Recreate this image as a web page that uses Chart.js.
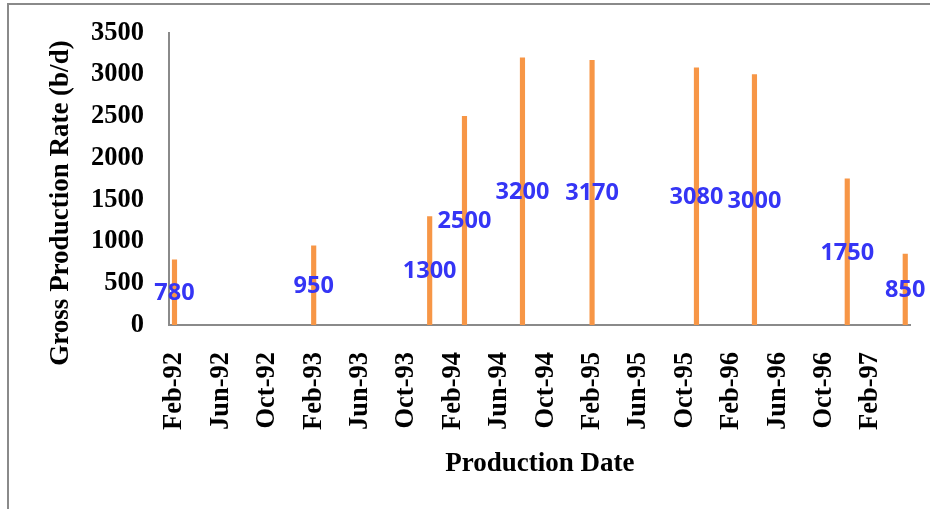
<!DOCTYPE html>
<html>
<head>
<meta charset="utf-8">
<script src="https://cdn.jsdelivr.net/npm/chart.js@4/dist/chart.umd.min.js"></script>
<style>
  html, body { margin: 0; padding: 0; background: #fff; }
  #wrap { position: relative; width: 930px; height: 509px; overflow: hidden; }
  #frame { position: absolute; left: 7px; top: 3px; width: 1000px; height: 600px;
           border-top: 2px solid #8a8a8a; border-left: 2px solid #8a8a8a; box-sizing: border-box; }
  canvas { position: absolute; left: 0; top: 0; }
</style>
</head>
<body>
<div id="wrap">
  <div id="frame"></div>
  <canvas id="c" width="930" height="509"></canvas>
</div>
<script>
// ---- data ----
const productionDates = ['Feb-92', 'Feb-93', 'Dec-93', 'Mar-94', 'Aug-94', 'Feb-95', 'Nov-95', 'Apr-96', 'Dec-96', 'May-97'];
const grossRates = [780, 950, 1300, 2500, 3200, 3170, 3080, 3000, 1750, 850];
const xTickLabels = ['Feb-92', 'Jun-92', 'Oct-92', 'Feb-93', 'Jun-93', 'Oct-93', 'Feb-94', 'Jun-94', 'Oct-94', 'Feb-95', 'Jun-95', 'Oct-95', 'Feb-96', 'Jun-96', 'Oct-96', 'Feb-97'];
const yTickValues = [0, 500, 1000, 1500, 2000, 2500, 3000, 3500];
const xTitle = 'Production Date';
const yTitle = 'Gross Production Rate (b/d)';

// ---- helpers ----
const MONTHS = ['Jan','Feb','Mar','Apr','May','Jun','Jul','Aug','Sep','Oct','Nov','Dec'];
function monthIndex(label) {
  const [m, y] = label.split('-');
  return (1900 + parseInt(y, 10)) * 12 + MONTHS.indexOf(m);
}
const base = monthIndex(xTickLabels[0]);
const rel = l => monthIndex(l) - base;
const tickMap = {};
xTickLabels.forEach(l => { tickMap[rel(l)] = l; });

const points = productionDates.map((d, i) => ({ x: rel(d), y: grossRates[i] }));

const serif = 'Liberation Serif, "Times New Roman", serif';

const labelPlugin = {
  id: 'barLabels',
  afterDatasetsDraw(chart) {
    const ctx = chart.ctx;
    const meta = chart.getDatasetMeta(0);
    ctx.save();
    ctx.font = 'bold 23.5px "Open Sans", sans-serif';
    ctx.fillStyle = '#3535F5';
    ctx.textAlign = 'center';
    ctx.textBaseline = 'middle';
    meta.data.forEach((el, i) => {
      const v = chart.data.datasets[0].data[i].y;
      ctx.fillText(String(v), el.x, (el.y + el.base) / 2 + 1);
    });
    ctx.restore();
  }
};

const titlePlugin = {
  id: 'axisTitles',
  afterDraw(chart) {
    const ctx = chart.ctx;
    const a = chart.chartArea;
    ctx.save();
    ctx.fillStyle = '#000';
    ctx.font = 'bold 27px ' + serif;
    ctx.textAlign = 'center';
    ctx.textBaseline = 'middle';
    ctx.fillText(xTitle, (a.left + a.right) / 2, 464);
    ctx.font = 'bold 27px ' + serif;
    ctx.translate(61, 203);
    ctx.rotate(-Math.PI / 2);
    ctx.fillText(yTitle, 0, 0);
    ctx.restore();
  }
};

new Chart(document.getElementById('c'), {
  type: 'bar',
  data: {
    datasets: [{
      data: points,
      backgroundColor: '#F79646',
      borderWidth: 0,
      barThickness: 4.5
    }]
  },
  options: {
    responsive: false,
    animation: false,
    layout: { padding: { left: 0, right: 19.3, top: 27.4, bottom: 0 } },
    plugins: { legend: { display: false }, tooltip: { enabled: false } },
    scales: {
      x: {
        type: 'linear',
        offset: false,
        min: -0.474,
        max: 63.47,
        grid: { display: false, offset: false },
        border: { display: true, color: '#8a8a8a', width: 2 },
        afterBuildTicks(scale) {
          scale.ticks = xTickLabels.map(l => ({ value: rel(l) }));
        },
        afterFit(scale) { scale.height = 509 - 325; },
        ticks: {
          autoSkip: false,
          minRotation: 90,
          maxRotation: 90,
          padding: 19,
          color: '#000',
          font: { family: serif, size: 26.5, weight: 'bold' },
          callback: v => tickMap[v] !== undefined ? tickMap[v] : ''
        }
      },
      y: {
        min: 0,
        max: 3500,
        grid: { display: false },
        border: { display: true, color: '#8a8a8a', width: 2 },
        afterBuildTicks(scale) {
          scale.ticks = yTickValues.map(v => ({ value: v }));
        },
        afterFit(scale) { scale.width = 169; },
        ticks: {
          padding: 17,
          color: '#000',
          font: { family: serif, size: 26.5, weight: 'bold' },
          callback: v => String(v)
        }
      }
    }
  },
  plugins: [labelPlugin, titlePlugin]
});
</script>
</body>
</html>
